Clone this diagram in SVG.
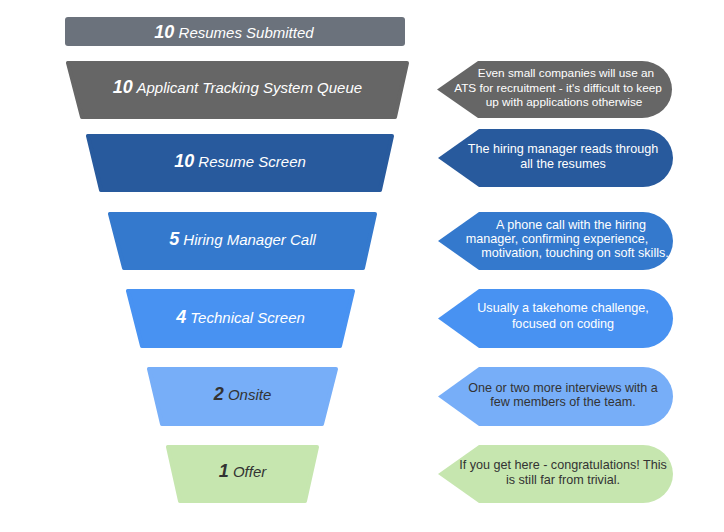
<svg xmlns="http://www.w3.org/2000/svg" width="724" height="532" viewBox="0 0 724 532">
<style>
.stage{stroke-width:4;stroke-linejoin:round}
.lbl{font-family:"Liberation Sans",Arial,sans-serif;font-style:italic;font-size:15px;text-anchor:middle}
.num{font-weight:bold;font-size:18px}
.note{font-family:"Liberation Sans",Arial,sans-serif;font-size:12.6px;text-anchor:middle}
.w{fill:#ffffff}
.d{fill:#333333}
</style>
<rect width="724" height="532" fill="#ffffff"/>
<g id="connectors"/>
<g id="stage-submitted">
<rect x="65" y="17" width="340" height="29" rx="3" fill="#6b727c"/>
<text class="lbl w" x="234" y="38"><tspan class="num">10</tspan> Resumes Submitted</text>
</g>
<g id="stage-ats">
<polygon class="stage" points="68,63 407,63 395,117 82,117" fill="#666666" stroke="#666666"/>
<text class="lbl w" x="237.5" y="93"><tspan class="num">10</tspan> Applicant Tracking System Queue</text>
</g>
<g id="stage-resume">
<polygon class="stage" points="88,136 392,136 380,190 101,190" fill="#285a9d" stroke="#285a9d"/>
<text class="lbl w" x="240" y="167"><tspan class="num">10</tspan> Resume Screen</text>
</g>
<g id="stage-hm">
<polygon class="stage" points="110,214 375,214 363,268 124,268" fill="#3479cd" stroke="#3479cd"/>
<text class="lbl w" x="242.5" y="245"><tspan class="num">5</tspan> Hiring Manager Call</text>
</g>
<g id="stage-tech">
<polygon class="stage" points="128,291 353,291 340,346 142,346" fill="#4892f2" stroke="#4892f2"/>
<text class="lbl w" x="240.5" y="323"><tspan class="num">4</tspan> Technical Screen</text>
</g>
<g id="stage-onsite">
<polygon class="stage" points="149,369 336,369 322,424 162,424" fill="#77aef8" stroke="#77aef8"/>
<text class="lbl d" x="242.5" y="400"><tspan class="num">2</tspan> Onsite</text>
</g>
<g id="stage-offer">
<polygon class="stage" points="168,447 317,447 305,501 180,501" fill="#c6e6af" stroke="#c6e6af"/>
<text class="lbl d" x="242.5" y="477"><tspan class="num">1</tspan> Offer</text>
</g>
<g id="note-ats">
<path d="M437,89.5 L478,61 L642,61 A30,28.5 0 0 1 642,118 L478,118 Z" fill="#666666"/>
<text class="note w" style="font-size:11.8px"><tspan x="566" y="77">Even small companies will use an</tspan><tspan x="558" y="92">ATS for recruitment - it's difficult to keep</tspan><tspan x="564" y="106">up with applications otherwise</tspan></text>
</g>
<g id="note-resume">
<path d="M438,158 L479,129 L643,129 A30,29 0 0 1 643,187 L479,187 Z" fill="#285a9d"/>
<text class="note w"><tspan x="563" y="153">The hiring manager reads through</tspan><tspan x="563" y="168">all the resumes</tspan></text>
</g>
<g id="note-hm">
<path d="M438,241 L479,212 L643,212 A30,29 0 0 1 643,270 L479,270 Z" fill="#3479cd"/>
<text class="note w"><tspan x="571" y="229">A phone call with the hiring</tspan><tspan x="557" y="243">manager, confirming experience,</tspan><tspan x="575" y="257">motivation, touching on soft skills.</tspan></text>
</g>
<g id="note-tech">
<path d="M438,318.5 L479,289 L643,289 A30,29.5 0 0 1 643,348 L479,348 Z" fill="#4892f2"/>
<text class="note w"><tspan x="563" y="312">Usually a takehome challenge,</tspan><tspan x="563" y="328">focused on coding</tspan></text>
</g>
<g id="note-onsite">
<path d="M438,396.5 L479,367 L643,367 A30,29.5 0 0 1 643,426 L479,426 Z" fill="#77aef8"/>
<text class="note d"><tspan x="563" y="392">One or two more interviews with a</tspan><tspan x="563" y="406">few members of the team.</tspan></text>
</g>
<g id="note-offer">
<path d="M438,474 L479,445 L643,445 A30,29 0 0 1 643,503 L479,503 Z" fill="#c6e6af"/>
<text class="note d"><tspan x="563" y="469">If you get here - congratulations! This</tspan><tspan x="563" y="484">is still far from trivial.</tspan></text>
</g>
</svg>
